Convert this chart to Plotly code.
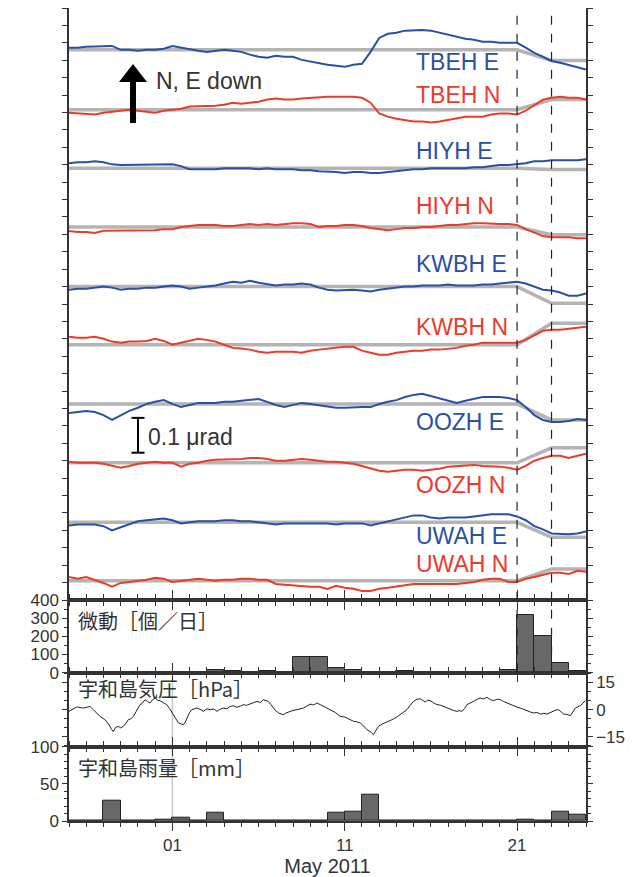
import plotly.graph_objects as go
import pandas as pd

# ---------------- data ----------------
x_start, x_end = "2011-04-25", "2011-05-25"
tilt_t0 = "2011-04-25"          # tilt samples every 12 h
tilt_n = 61

stations = ["TBEH E", "TBEH N", "HIYH E", "HIYH N", "KWBH E",
            "KWBH N", "OOZH E", "OOZH N", "UWAH E", "UWAH N"]
comp_is_east = [True, False, True, False, True, False, True, False, True, False]
# plotting offset of each trace (nrad) and modelled step (nrad) May 21-23
baseline_nrad = [1580, 1408, 1240, 1071, 900, 733, 563, 394, 223, 55]
step_nrad = [-31, 29, -4, -22, -48, 62, -46, 43, -43, 34]
step_dates = ["2011-04-25", "2011-05-21", "2011-05-23", "2011-05-25"]

# tilt change relative to offset (nrad), 12-hourly
tilt_TBEH_E = [6,6,9,9,11,11,0,0,-3,0,0,3,11,6,0,-3,-6,-3,0,-3,-6,-14,-20,-23,-17,-20,-20,-29,-34,-40,-43,-46,-49,-43,-40,-6,34,46,49,55,57,57,55,49,43,37,32,29,23,23,20,20,20,6,-9,-20,-32,-37,-43,-49,-57]
tilt_TBEH_N = [-9,-11,-14,-14,-9,-6,-3,0,-3,-6,-9,-3,0,3,9,9,11,11,14,20,17,20,23,29,32,29,29,32,34,34,37,37,37,37,34,20,-11,-20,-26,-29,-34,-34,-37,-34,-29,-26,-20,-20,-20,-14,-11,-11,-14,-3,14,29,34,37,34,34,29]
tilt_HIYH_E = [14,17,17,20,17,11,9,9,9,9,11,11,11,6,-3,-3,-3,-3,0,0,0,0,-3,0,-3,-3,-3,-6,-6,-9,-9,-11,-14,-11,-11,-14,-14,-11,-9,-6,-3,-3,0,0,0,0,0,3,3,6,9,9,11,14,20,20,23,23,23,23,26]
tilt_HIYH_N = [-11,-14,-14,-17,-11,-11,-11,-11,-9,-9,-9,-6,-6,0,3,6,6,6,3,3,6,9,6,9,6,9,11,11,9,0,3,3,6,6,3,-3,-6,-9,-6,-3,-3,0,0,3,6,6,9,11,11,9,9,9,6,-6,-17,-26,-29,-29,-29,-32,-32]
tilt_KWBH_E = [-9,-6,-6,-3,0,-3,-9,-6,-6,-3,-3,0,3,0,-6,-3,0,3,9,14,11,17,11,6,3,6,6,9,6,-3,-9,-11,-9,-9,-11,-14,-9,-6,-3,0,0,3,3,3,6,3,3,3,6,6,9,11,14,9,0,-9,-11,-17,-26,-26,-20]
tilt_KWBH_N = [23,20,20,23,17,9,6,9,9,11,17,11,0,6,11,17,14,9,0,-9,-11,-14,-20,-23,-20,-20,-20,-23,-17,-14,-11,-9,-6,-6,-17,-23,-29,-29,-23,-20,-17,-17,-14,-14,-11,-9,-3,0,6,6,6,6,6,14,26,40,43,43,46,49,52]
tilt_OOZH_E = [-26,-23,-20,-23,-32,-46,-32,-20,-11,0,6,11,0,-9,-3,3,3,3,6,6,9,11,14,6,-3,-9,-3,3,0,-3,-6,-11,-11,-9,-9,-9,0,6,11,20,26,29,23,17,9,3,9,14,20,20,20,17,11,-9,-32,-46,-52,-52,-49,-43,-46]
tilt_OOZH_N = [3,0,0,0,-3,-9,-14,-9,-3,0,3,0,0,-11,-3,0,6,9,9,11,11,14,14,11,6,6,9,11,9,6,3,3,0,-3,-9,-17,-23,-26,-23,-20,-20,-23,-20,-17,-11,-9,-9,-6,-9,-9,-11,-14,-20,-9,6,14,20,20,14,20,26]
tilt_UWAH_E = [-9,-6,-6,-6,-11,-23,-14,-6,3,6,9,11,6,-3,0,3,3,3,6,6,3,3,0,-3,-6,-3,-3,-3,-3,-3,-3,-6,-3,-3,-3,-9,-3,3,9,14,20,20,14,11,14,14,14,17,20,23,23,23,17,6,-11,-20,-32,-34,-34,-32,-26]
tilt_UWAH_N = [11,6,11,3,-6,-17,-6,-3,0,3,9,6,-3,0,3,6,3,0,3,3,6,6,3,3,-9,-11,-14,-14,-17,-17,-23,-14,-20,-23,-29,-29,-23,-20,-17,-14,-9,-9,-9,-11,-11,-9,-6,-3,3,6,6,-3,-3,6,11,17,23,23,20,29,26]
tilt_series = [tilt_TBEH_E, tilt_TBEH_N, tilt_HIYH_E, tilt_HIYH_N, tilt_KWBH_E,
               tilt_KWBH_N, tilt_OOZH_E, tilt_OOZH_N, tilt_UWAH_E, tilt_UWAH_N]

# daily tremor counts, Apr 25 ... May 24
day_start = "2011-04-25"
tremor_counts = [0,0,0,0,0,0,0,0,14,10,0,8,3,87,86,24,14,0,0,10,0,0,0,0,3,16,317,202,55,7]
# daily rainfall at Uwajima (mm), Apr 25 ... May 24
rain_mm = [0,0,28,0,0,2,5,0,11,0,0,0,0,0,0,11,12,36,0,0,0,0,0,0,0,0,2,1,13,8]

# Uwajima air pressure anomaly (hPa); time in days since Apr 25
p_days = [0.0,0.45,0.83,1.22,1.41,1.8,2.09,2.3,2.48,2.57,2.7,2.86,3.0,3.15,3.3,3.44,3.6,3.73,3.9,4.12,4.25,4.41,4.55,4.7,4.85,4.99,5.14,5.28,5.45,5.67,5.85,6.06,6.2,6.35,6.5,6.64,6.74,6.83,6.97,7.12,7.41,7.6,7.8,8.0,8.19,8.4,8.58,8.75,8.96,9.15,9.35,9.55,9.74,9.95,10.12,10.3,10.51,10.7,10.9,11.1,11.28,11.45,11.57,11.7,11.86,12.0,12.15,12.3,12.44,12.6,12.83,13.0,13.22,13.4,13.6,13.8,13.99,14.2,14.38,14.58,14.77,15.0,15.16,15.45,15.74,15.95,16.13,16.3,16.51,16.7,16.9,17.1,17.29,17.5,17.67,17.8,17.96,18.15,18.35,18.55,18.74,19.0,19.22,19.4,19.61,19.8,19.99,20.2,20.38,20.55,20.67,20.8,20.96,21.15,21.35,21.55,21.74,21.95,22.12,22.3,22.51,22.65,22.8,22.95,23.09,23.3,23.48,23.7,23.87,24.05,24.26,24.45,24.64,24.85,25.03,25.2,25.42,25.6,25.8,26.0,26.19,26.4,26.58,26.75,26.96,27.15,27.35,27.55,27.74,27.95,28.12,28.25,28.41,28.55,28.7,28.9,29.09,29.2,29.38,29.5,29.67,29.8,29.96]
p_hpa = [-0.9,1.5,0.9,1.8,0.0,-3.7,-5.5,-8.0,-11.0,-12.0,-9.8,-9.2,-10.0,-9.2,-7.5,-5.5,-5.0,-3.7,-1.0,2.8,3.5,5.5,4.6,3.7,5.5,6.4,5.2,5.0,4.0,2.8,0.5,-2.8,-5.0,-7.3,-7.8,-8.3,-7.0,-4.6,-2.0,0.0,0.9,0.2,-0.9,0.5,0.0,0.4,-0.9,0.2,0.9,0.5,1.8,2.2,1.3,2.0,2.8,2.4,3.1,3.6,4.6,4.0,5.5,5.0,4.6,3.0,0.9,-0.6,-1.8,-2.2,-2.8,-1.8,-0.9,-0.4,0.0,0.5,0.9,2.0,3.1,2.6,3.7,2.8,1.8,0.9,0.0,-1.5,-3.7,-3.9,-4.6,-5.4,-6.4,-6.7,-7.3,-9.0,-11.0,-12.2,-13.8,-11.5,-9.2,-8.0,-7.3,-6.3,-5.5,-4.2,-2.8,-1.8,0.0,2.4,4.6,5.8,6.0,5.0,4.2,5.2,5.0,3.8,2.8,2.5,1.8,0.9,0.0,-0.4,-0.9,-0.5,-0.9,0.6,2.8,3.6,4.6,5.8,6.4,6.0,6.8,5.6,5.0,5.8,5.5,4.6,3.7,2.6,1.8,1.4,0.9,0.0,-0.9,-1.2,-1.8,-1.5,-2.4,-2.0,-2.4,-1.4,-0.6,-0.2,0.0,-1.0,-2.4,-2.6,-3.3,-1.8,0.9,1.4,2.2,3.4,5.0]

# ---------------- style ----------------
BLUE, RED, GREY = "#2b4fa6", "#ec3b2b", "#b4b4b4"
INK = "#333333"
LAT = "Liberation Sans, Arial, sans-serif"
CJK = "Noto Sans CJK JP, sans-serif"

# page geometry (the html body has an 8 px margin)
OFF = 8
W, H = 642 - OFF, 877 - OFF
P_L, P_T, P_R, P_B = 69, 8, 586, 821          # plot area in page pixels
L, T = P_L - OFF, P_T - OFF
R, B = W - (P_R - OFF), H - (P_B - OFF)
pw, ph = P_R - P_L, P_B - P_T


def px(xp, yp):
    """page pixel -> paper fraction"""
    return (xp - P_L) / pw, (P_B - yp) / ph


def dom(ytop, ybot):
    return [px(0, ybot)[1], px(0, ytop)[1]]


tilt_t = pd.date_range(tilt_t0, periods=tilt_n, freq="12h")
days = pd.date_range(day_start, periods=len(tremor_counts), freq="D") + pd.Timedelta(hours=12)
p_t = pd.Timestamp(x_start) + pd.to_timedelta(p_days, unit="D")

fig = go.Figure()

for name, base, stp in zip(stations, baseline_nrad, step_nrad):
    fig.add_trace(go.Scatter(x=step_dates, y=[base, base, base + stp, base + stp],
                             mode="lines", line=dict(color=GREY, width=3.5),
                             xaxis="x", yaxis="y", showlegend=False, hoverinfo="skip"))
for name, base, ser, east in zip(stations, baseline_nrad, tilt_series, comp_is_east):
    fig.add_trace(go.Scatter(x=tilt_t, y=[base + v for v in ser], mode="lines",
                             line=dict(color=BLUE if east else RED, width=2),
                             xaxis="x", yaxis="y", name=name, showlegend=False))

fig.add_trace(go.Bar(x=days, y=tremor_counts, width=86400000,
                     marker=dict(color="#686868", line=dict(color="#222", width=1)),
                     xaxis="x2", yaxis="y2", showlegend=False))
fig.add_trace(go.Scatter(x=p_t, y=p_hpa, mode="lines", line=dict(color="#222", width=1),
                         xaxis="x3", yaxis="y3", showlegend=False))
fig.add_trace(go.Bar(x=days, y=rain_mm, width=86400000,
                     marker=dict(color="#686868", line=dict(color="#222", width=1)),
                     xaxis="x4", yaxis="y4", showlegend=False))

xcommon = dict(type="date", range=[x_start, x_end], tick0="2011-05-01", dtick=10 * 86400000,
               tickformat="%d", ticks="outside", ticklen=8, tickwidth=1.2, tickcolor=INK,
               minor=dict(dtick=86400000, tick0=x_start, ticks="outside", ticklen=4,
                          tickwidth=1, tickcolor=INK),
               showline=True, linecolor=INK, linewidth=1.5, mirror="ticks",
               showgrid=False, zeroline=False, automargin=False,
               tickfont=dict(family=LAT, size=17, color=INK))
ycommon = dict(ticks="outside", ticklen=5, tickwidth=1, tickcolor=INK, showline=True,
               linecolor=INK, linewidth=1.5, mirror="ticks", showgrid=False, zeroline=False,
               automargin=False, tickfont=dict(family=LAT, size=17, color=INK))

fig.update_layout(
    width=W, height=H, margin=dict(l=L, r=R, t=T, b=B, pad=0, autoexpand=False),
    paper_bgcolor="white", plot_bgcolor="white", bargap=0,
    xaxis=dict(xcommon, anchor="y", showticklabels=False),
    xaxis2=dict(xcommon, anchor="y2", matches="x", showticklabels=False),
    xaxis3=dict(xcommon, anchor="y3", matches="x", showticklabels=False),
    xaxis4=dict(xcommon, anchor="y4", matches="x", showticklabels=True,
                title=dict(text="May 2011", font=dict(family=LAT, size=20, color=INK), standoff=0)),
    yaxis=dict(ycommon, anchor="x", domain=dom(8, 600), range=[0, 1700],
               tickmode="linear", tick0=0, dtick=50, showticklabels=False),
    yaxis2=dict(ycommon, anchor="x2", domain=dom(600, 672.7), range=[0, 400],
                tickvals=[0, 100, 200, 300, 400],
                minor=dict(dtick=50, ticks="outside", ticklen=3, tickcolor=INK)),
    yaxis3=dict(ycommon, anchor="x3", domain=dom(672.7, 746.7), range=[-20.4, 20.4],
                side="right", tickvals=[-15, 0, 15],
                minor=dict(dtick=5, ticks="outside", ticklen=3, tickcolor=INK)),
    yaxis4=dict(ycommon, anchor="x4", domain=dom(746.7, 821), range=[0, 100],
                tickvals=[0, 50, 100],
                minor=dict(dtick=10, ticks="outside", ticklen=3, tickcolor=INK)),
)

shapes = []
for d in ["2011-05-21", "2011-05-23"]:
    shapes.append(dict(type="line", xref="x", yref="paper", x0=d, x1=d,
                       y0=px(0, 672.7)[1], y1=1, line=dict(color="#222", width=1.2, dash="dash")))
shapes.append(dict(type="line", xref="x", yref="paper", x0="2011-05-01", x1="2011-05-01",
                   y0=0, y1=px(0, 672.7)[1], line=dict(color="#c8c8c8", width=1.5), layer="below"))
# up arrow
ax0, ay_tip, ay_base, ay_tail = 133, 64, 82, 123
x_a, y_a = px(ax0 - 3, ay_base)
x_b, y_b = px(ax0 + 3, ay_tail)
shapes.append(dict(type="rect", xref="paper", yref="paper", x0=x_a, x1=x_b, y0=y_b, y1=y_a,
                   fillcolor="black", line=dict(width=0)))
hx1, hy = px(ax0 - 14, ay_base)
hx2, _ = px(ax0 + 14, ay_base)
tx, ty = px(ax0, ay_tip)
shapes.append(dict(type="path", xref="paper", yref="paper",
                   path=f"M {hx1} {hy} L {hx2} {hy} L {tx} {ty} Z",
                   fillcolor="black", line=dict(width=0)))
# 0.1 microradian scale bar (100 nrad)
sb_x = px(138, 0)[0]
sb_l, sb_r = px(131.5, 0)[0], px(144.5, 0)[0]
sb_y0 = 423
shapes += [
    dict(type="line", xref="paper", yref="y", x0=sb_x, x1=sb_x, y0=sb_y0, y1=sb_y0 + 100,
         line=dict(color="black", width=2)),
    dict(type="line", xref="paper", yref="y", x0=sb_l, x1=sb_r, y0=sb_y0, y1=sb_y0,
         line=dict(color="black", width=2)),
    dict(type="line", xref="paper", yref="y", x0=sb_l, x1=sb_r, y0=sb_y0 + 100, y1=sb_y0 + 100,
         line=dict(color="black", width=2)),
]
fig.update_layout(shapes=shapes)

ann = []
label_y = [62.5, 95, 151, 205.5, 264, 327, 422, 485, 536, 564]
for name, yy, east in zip(stations, label_y, comp_is_east):
    xp, yp = px(414, yy)
    ann.append(dict(text=name, x=xp, y=yp, xref="paper", yref="paper", xanchor="left",
                    yanchor="middle", showarrow=False,
                    font=dict(family=LAT, size=23, color=BLUE if east else RED)))
for txt, xx, yy, fam in [("N, E down", 154, 81, LAT), ("0.1 μrad", 146, 437, LAT),
                         ("微動［個／日］", 76, 620, CJK), ("宇和島気圧［hPa］", 76, 688, CJK),
                         ("宇和島雨量［mm］", 76, 767, CJK)]:
    xp, yp = px(xx, yy)
    ann.append(dict(text=txt, x=xp, y=yp, xref="paper", yref="paper", xanchor="left",
                    yanchor="middle", showarrow=False,
                    font=dict(family=fam, size=23 if fam == LAT else 20, color=INK)))
fig.update_layout(annotations=ann)

fig.write_html("out.html")
